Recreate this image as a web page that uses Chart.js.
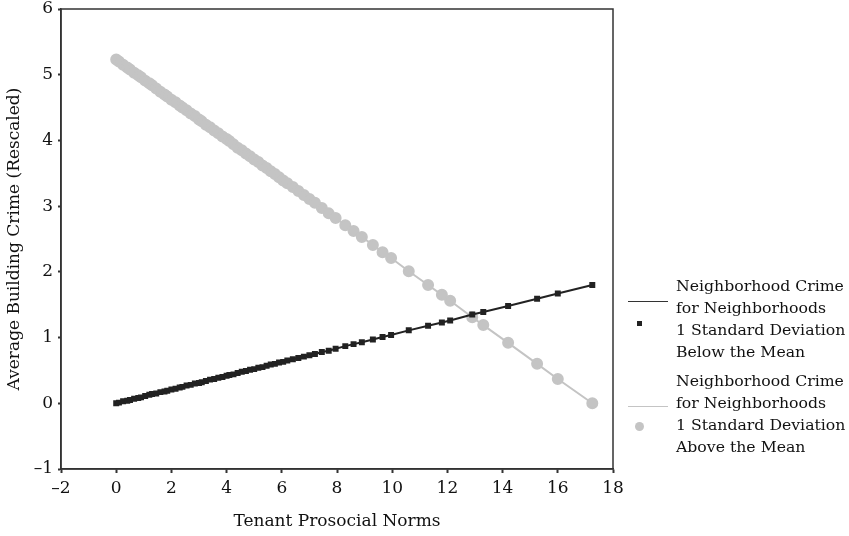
<!DOCTYPE html>
<html>
<head>
<meta charset="utf-8">
<script src="https://cdn.jsdelivr.net/npm/chart.js@4"></script>
<style>
  html, body { margin: 0; padding: 0; background: #fff; }
  #wrap { position: relative; width: 849px; height: 536px; }
  #chart { position: absolute; left: 0; top: 0; }
  .leg { position: absolute; left: 676px; font-family: "DejaVu Serif", serif; font-size: 15.7px; line-height: 22px; color: #111; }
  .legLine { position: absolute; left: 628px; width: 40px; height: 0; }
  .legMark { position: absolute; }
</style>
</head>
<body>
<div id="wrap">
  <canvas id="chart" width="849" height="536"></canvas>
  <div class="leg" style="top:275px">Neighborhood Crime<br>for Neighborhoods<br>1 Standard Deviation<br>Below the Mean</div>
  <div class="legLine" style="top:301px; border-top:1.5px solid #333"></div>
  <div class="legMark" style="left:637px; top:321px; width:5px; height:5px; background:#222"></div>
  <div class="leg" style="top:370px">Neighborhood Crime<br>for Neighborhoods<br>1 Standard Deviation<br>Above the Mean</div>
  <div class="legLine" style="top:406px; border-top:1.5px solid #c4c4c4"></div>
  <div class="legMark" style="left:635px; top:422px; width:9px; height:9px; border-radius:50%; background:#c4c4c4"></div>
</div>
<script>
// valores
const prosocial = [0, 0.1, 0.25, 0.4, 0.5, 0.65, 0.8, 0.9, 1.05, 1.2, 1.3, 1.45, 1.6, 1.75, 1.85, 2.0, 2.15, 2.3, 2.4, 2.55,
  2.7, 2.85, 3.0, 3.1, 3.25, 3.4, 3.55, 3.7, 3.85, 4.0, 4.1, 4.25, 4.4, 4.55, 4.7, 4.85, 5.0, 5.15, 5.3, 5.45,
  5.6, 5.75, 5.9, 6.05, 6.2, 6.4, 6.6, 6.8, 7.0, 7.2, 7.45, 7.7, 7.95, 8.3, 8.6, 8.9, 9.3, 9.65, 9.96, 10.6,
  11.3, 11.8, 12.1, 12.9, 13.3, 14.2, 15.25, 16.0, 17.25];
const crimeBelow = [0.00, 0.01, 0.03, 0.04, 0.05, 0.07, 0.08, 0.09, 0.11, 0.13, 0.14, 0.15, 0.17, 0.18, 0.19, 0.21, 0.22, 0.24, 0.25, 0.27,
  0.28, 0.30, 0.31, 0.32, 0.34, 0.36, 0.37, 0.39, 0.40, 0.42, 0.43, 0.44, 0.46, 0.48, 0.49, 0.51, 0.52, 0.54, 0.55, 0.57,
  0.59, 0.60, 0.62, 0.63, 0.65, 0.67, 0.69, 0.71, 0.73, 0.75, 0.78, 0.80, 0.83, 0.87, 0.90, 0.93, 0.97, 1.01, 1.04, 1.11,
  1.18, 1.23, 1.26, 1.35, 1.39, 1.48, 1.59, 1.67, 1.80];
const crimeAbove = [5.23, 5.20, 5.15, 5.11, 5.08, 5.03, 4.99, 4.96, 4.91, 4.87, 4.84, 4.79, 4.74, 4.70, 4.67, 4.62, 4.58, 4.53, 4.50, 4.46,
  4.41, 4.37, 4.32, 4.29, 4.24, 4.20, 4.15, 4.11, 4.06, 4.02, 3.99, 3.94, 3.89, 3.85, 3.80, 3.76, 3.71, 3.67, 3.62, 3.58,
  3.53, 3.49, 3.44, 3.39, 3.35, 3.29, 3.23, 3.17, 3.11, 3.05, 2.97, 2.89, 2.82, 2.71, 2.62, 2.53, 2.41, 2.30, 2.21, 2.01,
  1.80, 1.65, 1.56, 1.31, 1.19, 0.92, 0.60, 0.37, 0.00];
const xTicks = [-2, 0, 2, 4, 6, 8, 10, 12, 14, 16, 18];
const yTicks = [-1, 0, 1, 2, 3, 4, 5, 6];

const toPoints = (ys) => prosocial.map((x, i) => ({ x: x, y: ys[i] }));
const minus = (v) => String(v).replace("-", "\u2013");
const fuente = { family: "DejaVu Serif", size: 17 };

// marco completo alrededor del area
const marco = {
  id: "marco",
  afterDraw(chart) {
    const { ctx, chartArea: a } = chart;
    ctx.save();
    ctx.strokeStyle = "#333";
    ctx.lineWidth = 1.5;
    ctx.strokeRect(a.left, a.top, a.right - a.left, a.bottom - a.top);
    ctx.restore();
  },
};

new Chart(document.getElementById("chart"), {
  type: "scatter",
  data: {
    datasets: [
      {
        label: "Below the Mean",
        data: toPoints(crimeBelow),
        showLine: true,
        borderColor: "#222",
        backgroundColor: "#222",
        borderWidth: 2,
        pointStyle: "rect",
        pointRadius: 2.8,
        order: 1,
      },
      {
        label: "Above the Mean",
        data: toPoints(crimeAbove),
        showLine: true,
        borderColor: "#c4c4c4",
        backgroundColor: "#c4c4c4",
        borderWidth: 2,
        pointStyle: "circle",
        pointRadius: 5,
        order: 2,
      },
    ],
  },
  options: {
    responsive: false,
    animation: false,
    layout: { padding: { left: 0, top: 9, right: 236, bottom: 0 } },
    scales: {
      x: {
        type: "linear",
        min: -2,
        max: 18,
        afterBuildTicks: (s) => { s.ticks = xTicks.map((v) => ({ value: v })); },
        afterFit: (s) => { s.height = 67; s.paddingLeft = 0; s.paddingRight = 0; },
        border: { display: true, color: "#333", width: 1.5 },
        grid: { drawOnChartArea: false, drawTicks: true, tickLength: 4, tickWidth: 2, color: "#333" },
        ticks: { color: "#111", font: fuente, padding: 5, callback: (v) => minus(v) },
        title: { display: true, text: "Tenant Prosocial Norms", color: "#111", font: fuente, padding: { top: 8 } },
      },
      y: {
        type: "linear",
        min: -1,
        max: 6,
        afterBuildTicks: (s) => { s.ticks = yTicks.map((v) => ({ value: v })); },
        afterFit: (s) => { s.width = 61; s.paddingTop = 0; s.paddingBottom = 0; },
        border: { display: true, color: "#333", width: 1.5 },
        grid: { drawOnChartArea: false, drawTicks: true, tickLength: 3, tickWidth: 2, color: "#333" },
        ticks: { color: "#111", font: fuente, padding: 5, callback: (v) => minus(v) },
        title: { display: true, text: "Average Building Crime (Rescaled)", color: "#111", font: fuente, padding: { top: 4, bottom: 0 } },
      },
    },
    plugins: {
      legend: { display: false },
      tooltip: { enabled: false },
    },
  },
  plugins: [marco],
});
</script>
</body>
</html>
